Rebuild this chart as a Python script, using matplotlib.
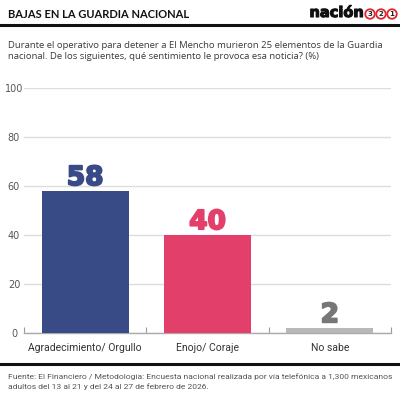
import matplotlib
matplotlib.use("Agg")
import matplotlib.pyplot as plt
from matplotlib.lines import Line2D
from matplotlib.patches import Ellipse
import matplotlib.patheffects as pe

# --- Data ---
categories = ["Agradecimiento/ Orgullo", "Enojo/ Coraje", "No sabe"]
values = [58, 40, 2]
bar_colours = ["#394b86", "#e2406a", "#b8b8b8"]
label_colours = ["#394b86", "#e2406a", "#777777"]
y_ticks = [0, 20, 40, 60, 80, 100]

title = "BAJAS EN LA GUARDIA NACIONAL"
question = ("Durante el operativo para detener a El Mencho murieron 25 elementos de la Guardia\n"
            "nacional. De los siguientes, qué sentimiento le provoca esa noticia? (%)")
footer = ("Fuente: El Financiero / Metodología: Encuesta nacional realizada por vía telefónica a 1,300 mexicanos\n"
          "adultos del 13 al 21 y del 24 al 27 de febrero de 2026.")

W, H = 400, 394
fig = plt.figure(figsize=(W / 100, H / 100), dpi=100)
fig.patch.set_facecolor("white")

# --- Header ---
fig.text(8 / W, 1 - 14 / H, title, fontsize=8, fontweight="bold", color="#111111",
         family="Lato", va="center", ha="left")
fig.text(364 / W, 1 - 12.5 / H, "nación", fontsize=10.5, fontweight="bold", color="#111111",
         family="DejaVu Sans", va="center", ha="right",
         path_effects=[pe.withStroke(linewidth=0.8, foreground="#111111")])
for i, d in enumerate(["3", "2", "1"]):
    cx, cy = (370 + i * 11) / W, 1 - 14 / H
    fig.add_artist(Ellipse((cx, cy), 9.5 / W, 9.5 / H, transform=fig.transFigure,
                           facecolor="white", edgecolor="#e0262e", linewidth=1.3))
    fig.text(cx, cy, d, fontsize=5, fontweight="bold", color="#222222",
             family="DejaVu Sans", va="center", ha="center")
fig.add_artist(Line2D([0, 1], [1 - 24.5 / H, 1 - 24.5 / H], color="#111111", linewidth=2.2))

fig.text(8 / W, 1 - 51 / H, question, fontsize=6.8, color="#3a3a3a", family="Open Sans",
         va="center", ha="left", linespacing=1.35)

# --- Chart ---
ax = fig.add_axes([24 / W, 1 - 333 / H, 367 / W, 245 / H])
x = range(len(categories))
ax.bar(x, values, width=0.71, color=bar_colours, zorder=3)

for xi, v, c in zip(x, values, label_colours):
    ax.text(xi, v + 2.4, str(v), ha="center", va="baseline", fontsize=19, fontweight="bold",
            family="DejaVu Sans", color=c, zorder=4,
            path_effects=[pe.withStroke(linewidth=1.4, foreground=c)])

ax.set_xlim(-0.5, len(categories) - 0.5)
ax.set_ylim(0, 100)
ax.set_yticks(y_ticks)
ax.set_yticklabels([str(t) for t in y_ticks])
for lbl in ax.get_yticklabels():
    lbl.set_horizontalalignment("center")
ax.tick_params(axis="y", length=0, pad=7.2, labelsize=7, labelcolor="#555555")
ax.grid(axis="y", color="#dddddd", linewidth=1, zorder=0)

ax.set_xticks(list(x))
ax.set_xticklabels(categories, family="Roboto")
ax.tick_params(axis="x", which="major", length=0, pad=7, labelsize=7.5, labelcolor="#333333")
ax.set_xticks([i - 0.5 for i in range(len(categories) + 1)], minor=True)
ax.tick_params(axis="x", which="minor", length=4, direction="in", color="#999999", width=0.8)

for side in ["top", "right", "left"]:
    ax.spines[side].set_visible(False)
ax.spines["bottom"].set_color("#aaaaaa")
ax.spines["bottom"].set_linewidth(1)

# --- Footer ---
fig.add_artist(Line2D([0, 1], [1 - 364 / H, 1 - 364 / H], color="#111111", linewidth=2.2))
fig.text(8 / W, 1 - 381.5 / H, footer, fontsize=6.1, color="#555555", family="Roboto",
         va="center", ha="left", linespacing=1.45)

fig.savefig("out.png", dpi=100, facecolor="white")
